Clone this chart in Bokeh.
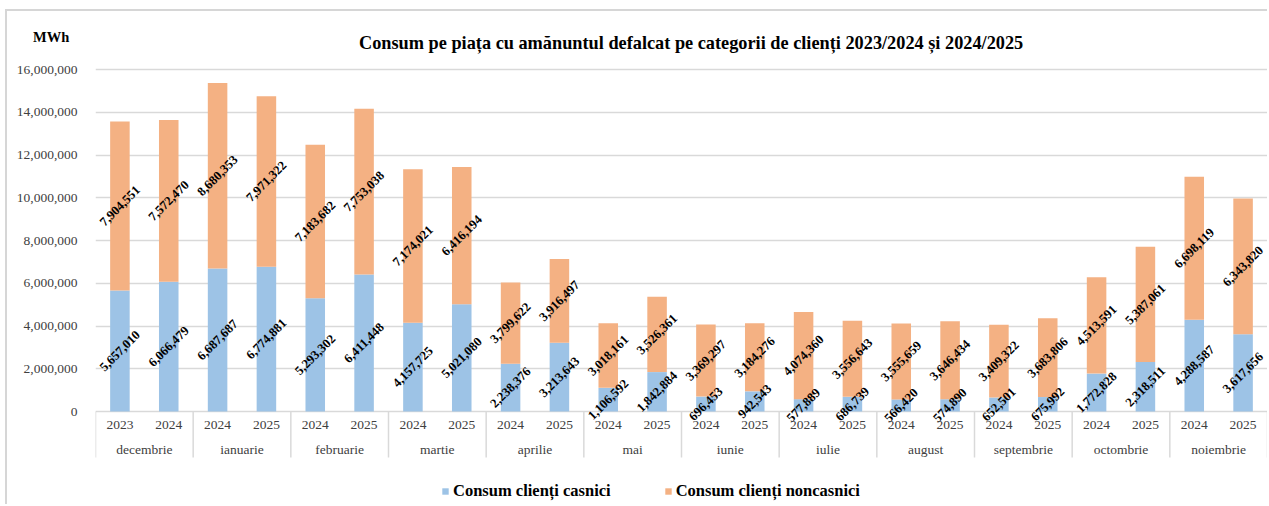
import math
from bokeh.plotting import figure
from bokeh.models import (FactorRange, Range1d, FixedTicker, NumeralTickFormatter,
                          ColumnDataSource, Legend, LegendItem, Div)
from bokeh.core.properties import value
from bokeh.embed import file_html
from bokeh.resources import INLINE

# ---------------- data ----------------
months = ["decembrie", "ianuarie", "februarie", "martie", "aprilie", "mai",
          "iunie", "iulie", "august", "septembrie", "octombrie", "noiembrie"]
years = [["2023", "2024"]] + [["2024", "2025"]] * 11

casnici = [5657010, 6066479, 6687687, 6774881, 5293302, 6411448,
           4157725, 5021080, 2238376, 3213643, 1106592, 1842884,
           696453, 942543, 577889, 686739, 566420, 574890,
           652501, 675992, 1772828, 2318511, 4288587, 3617656]
noncasnici = [7904551, 7572470, 8680353, 7971322, 7183682, 7753038,
              7174021, 6416194, 3799622, 3916497, 3018161, 3526361,
              3369297, 3184276, 4074360, 3556643, 3555659, 3646434,
              3409322, 3683806, 4513591, 5387061, 6698119, 6343820]

series_names = ["Consum clienți casnici", "Consum clienți noncasnici"]
title_text = "Consum pe piața cu amănuntul defalcat pe categorii de clienți 2023/2024 și 2024/2025"
unit_text = "MWh"
y_ticks = [0, 2000000, 4000000, 6000000, 8000000, 10000000, 12000000, 14000000, 16000000]

# ---------------- style ----------------
BLUE = "#9DC3E6"
ORANGE = "#F4B183"
GRID = "#d9d9d9"
FONT = "Liberation Serif"
PX = 21.375 / 1e6  # pixels per MWh

factors = [(m, y) for m, ys in zip(months, years) for y in ys]

p = figure(x_range=FactorRange(*factors, group_padding=0, factor_padding=0,
                               subgroup_padding=0, range_padding=0),
           y_range=Range1d(-95 / PX, 16e6 + 6 / PX),
           width=1262, height=495, output_backend="svg", toolbar_location=None,
           x_axis_location=None,
           min_border_left=88, min_border_right=2, min_border_top=52, min_border_bottom=0)
p.outline_line_color = None
p.background_fill_color = "white"
p.border_fill_color = "white"
p.styles = {"margin-left": "5px", "margin-top": "9px",
            "border-top": "2px solid #d6d6d6", "border-left": "2px solid #d6d6d6"}

# y axis
p.yaxis.ticker = FixedTicker(ticks=y_ticks)
p.yaxis.formatter = NumeralTickFormatter(format="0,0")
p.yaxis.axis_line_color = None
p.yaxis.major_tick_line_color = None
p.yaxis.minor_tick_line_color = None
p.yaxis.major_label_standoff = 12
p.yaxis.major_label_text_font = FONT
p.yaxis.major_label_text_font_size = "13.5px"
p.yaxis.major_label_text_color = "#404040"
p.ygrid.grid_line_color = GRID
p.ygrid.grid_line_width = 1.5
p.xgrid.grid_line_color = None

# stacked bars
src = ColumnDataSource(dict(x=factors, casnici=casnici, noncasnici=noncasnici))
rs = p.vbar_stack(["casnici", "noncasnici"], x="x", width=0.4, source=src,
                  fill_color=[BLUE, ORANGE], line_color=None)

# value labels
lab_x = factors + factors
lab_y = [c / 2 for c in casnici] + [c + n / 2 for c, n in zip(casnici, noncasnici)]
lab_t = ["{:,}".format(v) for v in casnici + noncasnici]
p.text(x=lab_x, y=lab_y, text=lab_t, angle=math.pi / 4,
       text_align="center", text_baseline="middle",
       text_font=value(FONT), text_font_style="bold", text_font_size="12.8px",
       text_color="black")

# category axis (years + months) drawn below zero
p.text(x=factors, y=[-13 / PX] * len(factors), text=[f[1] for f in factors],
       text_align="center", text_baseline="middle",
       text_font=value(FONT), text_font_size="13.5px", text_color="#404040")
p.text(x=months, y=[-38 / PX] * len(months), text=months,
       text_align="center", text_baseline="middle",
       text_font=value(FONT), text_font_size="13.5px", text_color="#404040")
sep_x = [(m, ys[0], -0.5) for m, ys in zip(months, years)] + [(months[-1], years[-1][-1], 0.5)]
p.segment(x0=sep_x, x1=sep_x, y0=[0] * len(sep_x), y1=[-46 / PX] * len(sep_x),
          line_color=GRID, line_width=1.5)

# legend
legend = Legend(items=[LegendItem(label=series_names[0], renderers=[rs[0]]),
                       LegendItem(label=series_names[1], renderers=[rs[1]])],
                orientation="horizontal", location=(346, 5),
                padding=0, margin=0, spacing=53, glyph_width=8, glyph_height=8,
                label_standoff=4, label_height=14,
                border_line_color=None, background_fill_alpha=0,
                label_text_font=FONT, label_text_font_style="bold",
                label_text_font_size="16.5px", label_text_color="black")
p.add_layout(legend)

# title and unit label placed in the top border area
base = {"position": "absolute", "margin": "0", "font-family": FONT, "font-weight": "bold",
        "color": "black", "white-space": "nowrap", "z-index": "10"}
title_div = Div(text=title_text, styles=dict(base, left="352px", top="21px",
                                             **{"font-size": "18.3px", "line-height": "22px"}))
unit_div = Div(text=unit_text, styles=dict(base, left="26px", top="18px",
                                           **{"font-size": "14.5px", "line-height": "17px"}))
p.elements = [title_div, unit_div]

open("out.html", "w").write(file_html(p, INLINE))
